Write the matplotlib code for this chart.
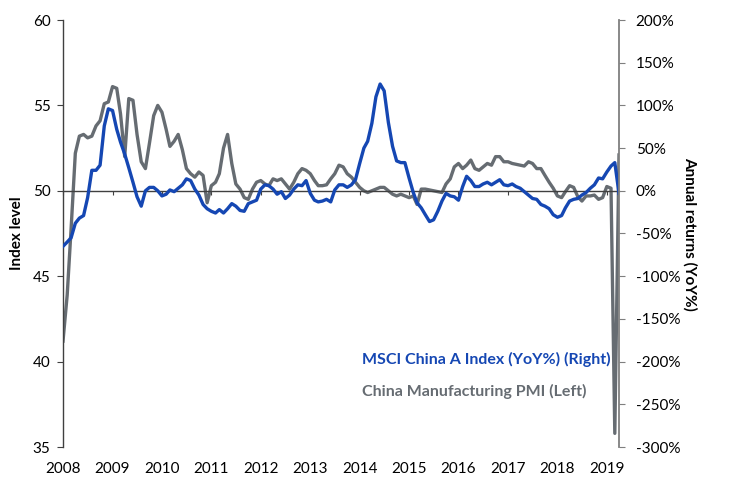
import matplotlib
matplotlib.use('Agg')
import matplotlib.pyplot as plt
import matplotlib.dates as mdates
import pandas as pd

# Monthly data, Jan 2008 - Apr 2019
months = pd.date_range('2008-01-01', periods=136, freq='MS')

# China Manufacturing PMI (left axis, index level)
pmi = [41.2, 43.9, 47.8, 52.2, 53.2, 53.3, 53.1, 53.2, 53.8, 54.1,
       55.1, 55.2, 56.1, 56.0, 54.5, 52.0, 55.4, 55.3, 53.3, 51.7,
       51.3, 52.8, 54.4, 55.0, 54.6, 53.6, 52.6, 52.9, 53.3, 52.4,
       51.3, 51.0, 50.8, 51.1, 50.9, 49.3, 50.3, 50.5, 51.0, 52.5,
       53.3, 51.6, 50.4, 50.1, 49.6, 49.5, 50.1, 50.5, 50.6, 50.4,
       50.3, 50.7, 50.6, 50.7, 50.4, 50.1, 50.5, 51.0, 51.3, 51.2,
       51.0, 50.6, 50.3, 50.3, 50.35, 50.7, 51.0, 51.5, 51.4, 51.0,
       50.8, 50.5, 50.2, 50.0, 49.9, 50.0, 50.1, 50.2, 50.2, 50.0,
       49.8, 49.7, 49.8, 49.7, 49.6, 49.7, 49.2, 50.1, 50.1, 50.05,
       50.0, 49.95, 49.9, 50.4, 50.7, 51.4, 51.6, 51.3, 51.5, 51.8,
       51.3, 51.2, 51.4, 51.6, 51.5, 52.0, 52.0, 51.7, 51.7, 51.6,
       51.55, 51.5, 51.45, 51.7, 51.6, 51.3, 51.3, 50.9, 50.5, 50.15,
       49.7, 49.6, 49.95, 50.3, 50.2, 49.65, 49.4, 49.7, 49.7, 49.75,
       49.5, 49.6, 50.25, 50.15, 35.8, 52.1]

# MSCI China A Index annual return in % (right axis)
msci = [-65, -60, -55, -38, -32, -29, -8, 24, 24, 30,
        76, 96, 94, 72, 57, 43, 27, 10, -7, -18,
        0, 4, 4, 0, -6, -4, 1, -1, 3, 7,
        14, 12, 2, -5, -16, -21, -24, -26, -22, -26,
        -21, -15, -18, -23, -24, -15, -13, -11, 2, 7,
        6, 2, -4, -1, -9, -5, 2, 7, 6, 12,
        -3, -11, -13, -12, -10, -13, 1, 7, 7, 4,
        7, 13, 32, 50, 58, 79, 110, 125, 117, 80,
        52, 35, 33, 33, 15, -2, -14, -20, -28, -36,
        -34, -24, -12, -3, -6, -7, -11, 5, 17, 12,
        5, 5, 8, 10, 7, 10, 13, 7, 6, 8,
        5, 3, -1, -5, -9, -10, -16, -18, -21, -28,
        -31, -29, -20, -12, -10, -9, -5, -2, 3, 7,
        15, 14, 22, 29, 33, -3]

left_ticks = [35, 40, 45, 50, 55, 60]
right_ticks = [-300, -250, -200, -150, -100, -50, 0, 50, 100, 150, 200]

blue = '#1547B3'
grey = '#666C72'
font = 'Lato'

plt.rcParams['font.family'] = font

fig = plt.figure(figsize=(7.39, 4.90), dpi=100)
ax = fig.add_axes([63 / 739, 43 / 490, (619 - 63) / 739, (447 - 20) / 490])
ax2 = ax.twinx()

ax.plot(months, pmi, color=grey, lw=2.4, solid_joinstyle='round')
ax2.plot(months, msci, color=blue, lw=2.4, solid_joinstyle='round')

ax.set_xlim(months[0], months[-1])
ax.set_ylim(35, 60)
ax2.set_ylim(-300, 200)
ax.set_yticks(left_ticks)
ax2.set_yticks(right_ticks)
ax2.set_yticklabels([f'{t}%' for t in right_ticks])

# category axis crosses at 50 / 0%
for s in ['top', 'right']:
    ax.spines[s].set_visible(False)
for s in ['top', 'bottom', 'left']:
    ax2.spines[s].set_visible(False)
ax.spines['bottom'].set_position(('data', 50))
ax.spines['bottom'].set_color('#404040')
ax.spines['bottom'].set_linewidth(1.0)
ax.spines['left'].set_color('#404040')
ax.spines['left'].set_linewidth(1.0)
ax2.spines['right'].set_color('#7F7F7F')
ax2.spines['right'].set_linewidth(1.3)

ax.xaxis.set_major_locator(mdates.YearLocator())
ax.tick_params(axis='x', direction='out', length=3, color='#404040', labelbottom=False)
ax.tick_params(axis='y', direction='out', length=4, color='#404040', labelsize=11, pad=5)
ax2.tick_params(axis='y', direction='out', length=4, color='#7F7F7F', labelsize=11, pad=8)

# year labels along the bottom
sec = ax.secondary_xaxis(0)
sec.xaxis.set_major_locator(mdates.YearLocator())
sec.xaxis.set_major_formatter(mdates.DateFormatter('%Y'))
sec.spines['bottom'].set_visible(False)
sec.tick_params(axis='x', length=0, pad=11, labelsize=11)

ax.set_ylabel('Index level', fontsize=11, fontweight='bold', labelpad=6)
ax2.set_ylabel('Annual returns (YoY%)', fontsize=11, fontweight='bold', rotation=270, labelpad=12)

ax.text(0.538, 0.205, 'MSCI China A Index (YoY%) (Right)', transform=ax.transAxes,
        color=blue, fontsize=11.5, fontweight='bold', va='center', ha='left')
ax.text(0.538, 0.13, 'China Manufacturing PMI (Left)', transform=ax.transAxes,
        color=grey, fontsize=11.5, fontweight='bold', va='center', ha='left')

fig.savefig('out.png', dpi=100)
